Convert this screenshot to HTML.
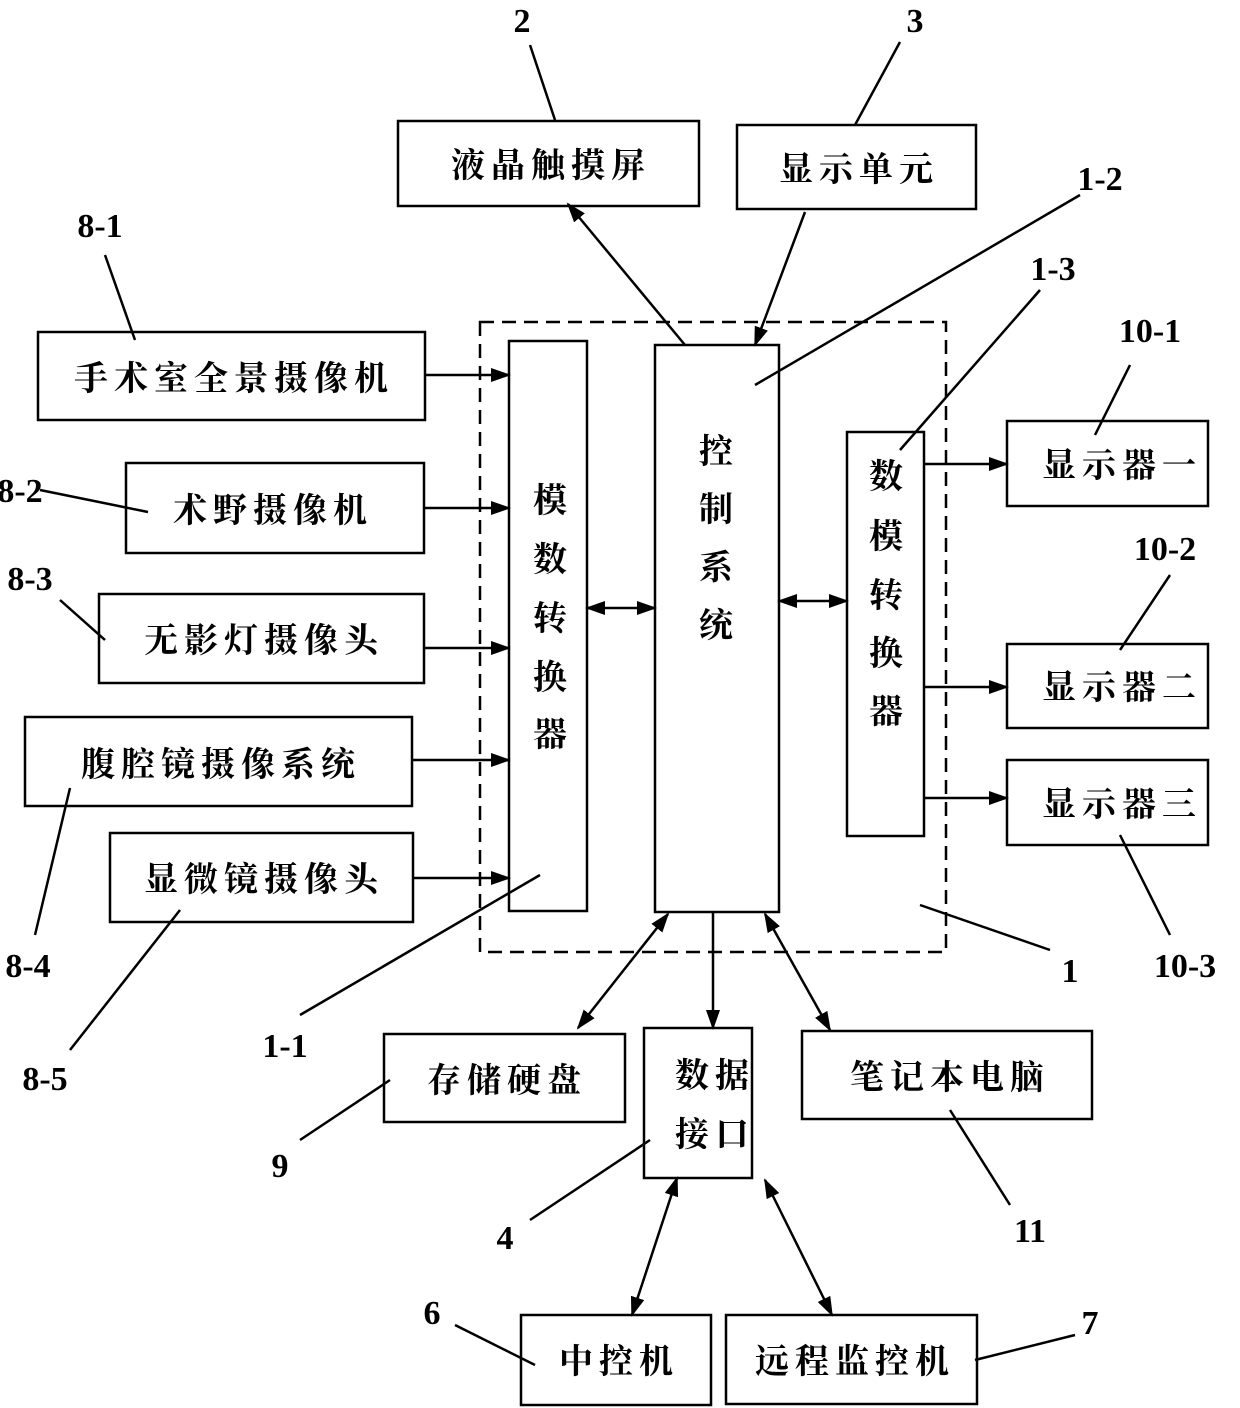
<!DOCTYPE html>
<html><head><meta charset="utf-8"><style>
html,body{margin:0;padding:0;background:#fff;}
svg{display:block;}
text{font-family:"Liberation Serif","Noto Serif CJK SC",serif;fill:#000;}
.t{font-size:34px;font-weight:700;letter-spacing:6px;}
.v{font-size:34px;font-weight:700;}
.n{font-size:34px;font-weight:700;font-family:"Liberation Sans Narrow","Liberation Sans",sans-serif;}
</style></head><body>
<svg width="1240" height="1408" viewBox="0 0 1240 1408" xmlns="http://www.w3.org/2000/svg">
<defs>
<marker id="b" markerWidth="20" markerHeight="14" refX="18" refY="7" orient="auto-start-reverse" markerUnits="userSpaceOnUse" viewBox="0 0 20 14">
<path d="M0,0 L20,7 L0,14 z" fill="#000"/></marker>
</defs>
<g fill="none" stroke="#000" stroke-width="2.5">
<rect x="398" y="121" width="301" height="85"/>
<rect x="737" y="125" width="239" height="84"/>
<rect x="480" y="322" width="466" height="630" stroke-dasharray="14,8"/>
<rect x="509" y="341" width="78" height="570"/>
<rect x="655" y="345" width="124" height="567"/>
<rect x="847" y="432" width="77" height="404"/>
<rect x="38" y="332" width="387" height="88"/>
<rect x="126" y="463" width="298" height="90"/>
<rect x="99" y="594" width="325" height="89"/>
<rect x="25" y="717" width="387" height="89"/>
<rect x="110" y="833" width="303" height="89"/>
<rect x="1007" y="421" width="201" height="85"/>
<rect x="1007" y="644" width="201" height="84"/>
<rect x="1007" y="760" width="201" height="85"/>
<rect x="384" y="1034" width="241" height="88"/>
<rect x="644" y="1028" width="108" height="150"/>
<rect x="802" y="1031" width="290" height="88"/>
<rect x="521" y="1315" width="190" height="90"/>
<rect x="726" y="1315" width="251" height="89"/>
</g>
<g stroke="#000" stroke-width="2.5" fill="none">
<line x1="530" y1="45" x2="555" y2="120"/>
<line x1="900" y1="42" x2="855" y2="125"/>
<line x1="1080" y1="195" x2="755" y2="385"/>
<line x1="1040" y1="290" x2="900" y2="450"/>
<line x1="105" y1="255" x2="135" y2="340"/>
<line x1="40" y1="490" x2="148" y2="512"/>
<line x1="60" y1="600" x2="105" y2="640"/>
<line x1="35" y1="935" x2="70" y2="788"/>
<line x1="70" y1="1050" x2="180" y2="910"/>
<line x1="300" y1="1015" x2="540" y2="875"/>
<line x1="1050" y1="950" x2="920" y2="905"/>
<line x1="1130" y1="365" x2="1095" y2="435"/>
<line x1="1170" y1="575" x2="1120" y2="650"/>
<line x1="1170" y1="935" x2="1120" y2="835"/>
<line x1="300" y1="1140" x2="390" y2="1080"/>
<line x1="530" y1="1220" x2="650" y2="1140"/>
<line x1="1010" y1="1205" x2="950" y2="1110"/>
<line x1="455" y1="1325" x2="535" y2="1365"/>
<line x1="1075" y1="1335" x2="975" y2="1360"/>
<line x1="425" y1="375" x2="509" y2="375" marker-end="url(#b)"/>
<line x1="424" y1="508" x2="509" y2="508" marker-end="url(#b)"/>
<line x1="424" y1="648" x2="509" y2="648" marker-end="url(#b)"/>
<line x1="412" y1="760" x2="509" y2="760" marker-end="url(#b)"/>
<line x1="413" y1="878" x2="509" y2="878" marker-end="url(#b)"/>
<line x1="924" y1="464" x2="1007" y2="464" marker-end="url(#b)"/>
<line x1="924" y1="687" x2="1007" y2="687" marker-end="url(#b)"/>
<line x1="924" y1="798" x2="1007" y2="798" marker-end="url(#b)"/>
<line x1="587" y1="608" x2="655" y2="608" marker-start="url(#b)" marker-end="url(#b)"/>
<line x1="779" y1="601" x2="847" y2="601" marker-start="url(#b)" marker-end="url(#b)"/>
<line x1="685" y1="345" x2="568" y2="204" marker-end="url(#b)"/>
<line x1="805" y1="212" x2="755" y2="345" marker-end="url(#b)"/>
<line x1="668" y1="914" x2="578" y2="1028" marker-start="url(#b)" marker-end="url(#b)"/>
<line x1="713" y1="912" x2="713" y2="1028" marker-end="url(#b)"/>
<line x1="765" y1="914" x2="830" y2="1030" marker-start="url(#b)" marker-end="url(#b)"/>
<line x1="677" y1="1178" x2="632" y2="1315" marker-start="url(#b)" marker-end="url(#b)"/>
<line x1="765" y1="1180" x2="832" y2="1315" marker-start="url(#b)" marker-end="url(#b)"/>
</g>
<g class="t" text-anchor="middle">
<text x="551" y="177">液晶触摸屏</text>
<text x="859" y="181">显示单元</text>
<text x="234" y="390">手术室全景摄像机</text>
<text x="273" y="522">术野摄像机</text>
<text x="264" y="652">无影灯摄像头</text>
<text x="221" y="776">腹腔镜摄像系统</text>
<text x="264" y="891">显微镜摄像头</text>
<text x="1122" y="477">显示器一</text>
<text x="1122" y="699">显示器二</text>
<text x="1122" y="816">显示器三</text>
<text x="507" y="1092">存储硬盘</text>
<text x="950" y="1089">笔记本电脑</text>
<text x="619" y="1373">中控机</text>
<text x="855" y="1373">远程监控机</text>
<text x="715" y="1087">数据</text>
<text x="715" y="1146">接口</text>
</g>
<g class="v" text-anchor="middle">
<text x="550" y="512">模</text><text x="550" y="571">数</text><text x="550" y="630">转</text><text x="550" y="689">换</text><text x="550" y="746">器</text>
<text x="716" y="463">控</text><text x="716" y="521">制</text><text x="716" y="579">系</text><text x="716" y="637">统</text>
<text x="886" y="488">数</text><text x="886" y="548">模</text><text x="886" y="607">转</text><text x="886" y="665">换</text><text x="886" y="723">器</text>
</g>
<g class="n" text-anchor="middle">
<text x="522" y="32">2</text>
<text x="915" y="32">3</text>
<text x="1100" y="190">1-2</text>
<text x="1053" y="280">1-3</text>
<text x="100" y="237">8-1</text>
<text x="20" y="502">8-2</text>
<text x="30" y="590">8-3</text>
<text x="28" y="977">8-4</text>
<text x="45" y="1090">8-5</text>
<text x="285" y="1057">1-1</text>
<text x="1070" y="982">1</text>
<text x="1150" y="342">10-1</text>
<text x="1165" y="560">10-2</text>
<text x="1185" y="977">10-3</text>
<text x="280" y="1177">9</text>
<text x="505" y="1249">4</text>
<text x="1030" y="1242">11</text>
<text x="432" y="1324">6</text>
<text x="1090" y="1334">7</text>
</g>
</svg>
</body></html>
